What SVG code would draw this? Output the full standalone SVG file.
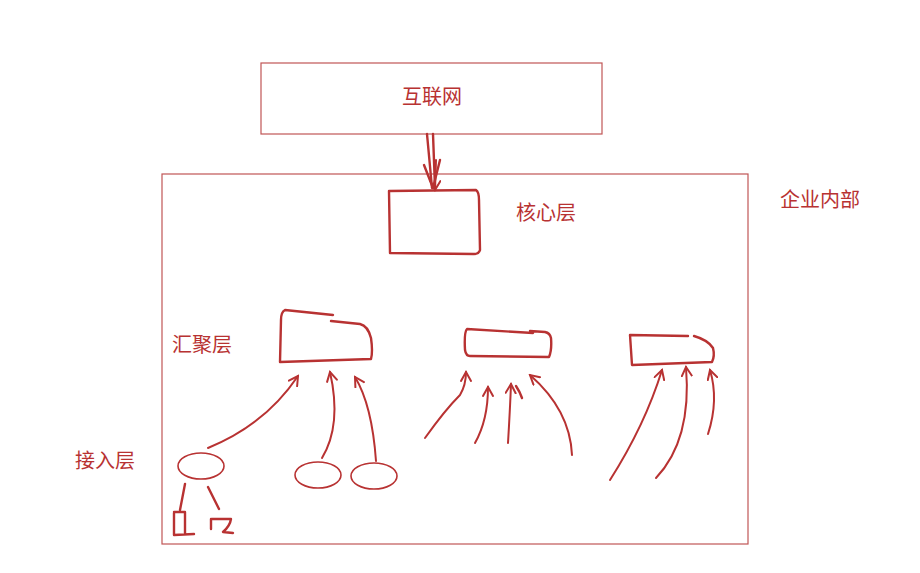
<svg xmlns="http://www.w3.org/2000/svg" width="920" height="573" viewBox="0 0 920 573">
<defs>
<marker id="ah" viewBox="0 0 12 12" refX="10" refY="6" markerWidth="12" markerHeight="12" markerUnits="userSpaceOnUse" orient="auto">
<path d="M1,1 L10,6 L1,11" fill="none" stroke="#b83232" stroke-width="2" stroke-linecap="round"/>
</marker>
</defs>
<style>
.t{font-family:"Noto Sans CJK SC","Liberation Sans",sans-serif;font-size:20px;fill:#b83232}
.thin{fill:none;stroke:#c05555;stroke-width:1.2}
.s{fill:none;stroke:#b83232;stroke-width:2.4;stroke-linecap:round;stroke-linejoin:round}
.a{fill:none;stroke:#b83232;stroke-width:2;stroke-linecap:round;marker-end:url(#ah)}
</style>
<rect x="0" y="0" width="920" height="573" fill="#fff"/>
<g id="internet"><rect class="thin" x="261" y="63" width="341" height="71"/><text class="t" x="432" y="104" text-anchor="middle">互联网</text></g>
<g id="enterprise"><rect class="thin" x="162" y="174" width="586" height="370"/><text class="t" x="780" y="207">企业内部</text></g>
<g id="core"><path class="s" d="M389,191 L476,190 Q479,192 479,200 L480,250 Q479,254 474,254 L390,253 Z"/><text class="t" x="516" y="220">核心层</text></g>
<g id="agg-label"><text class="t" x="172" y="352">汇聚层</text></g>
<g id="access-label"><text class="t" x="75" y="468">接入层</text></g>
<g id="agg1"><path class="s" d="M333,315 L285,310 Q281,312 281,320 L280,362 L371,359 Q373,352 371,338 Q368,326 360,324 L331,321"/></g>
<g id="agg2"><path class="s" d="M533,333 L467,329 Q464,332 465,350 Q466,356 470,356 L549,357 Q552,350 551,338 Q550,333 545,332 L530,331"/></g>
<g id="agg3"><path class="s" d="M688,336 L630,335 L632,365 L712,362 Q715,356 713,348 Q708,340 694,336"/></g>
<g id="sw1"><ellipse class="s" cx="201" cy="466" rx="23" ry="13" style="stroke-width:1.6"/></g>
<g id="sw2"><ellipse class="s" cx="318" cy="475" rx="23" ry="13" style="stroke-width:1.6"/></g>
<g id="sw3"><ellipse class="s" cx="374" cy="476" rx="23" ry="13" style="stroke-width:1.6"/></g>
<g id="dev1"><path class="s" d="M174,513 L174,535 L194,534 M174,512 L185,512 L185,533"/></g>
<g id="dev2"><path class="s" d="M211,519 L211,529 M212,519 L231,519 Q230,526 223,532 L233,533"/></g>
<g id="connectors">
<path class="s" d="M427,134 L432,188 M433,134 L435,188"/>
<path class="a" d="M436,160 L435,190"/>
<path class="s" d="M424,165 L433,188 L440,160"/>
<path class="a" d="M208,448 Q265,425 298,376"/>
<path class="a" d="M322,458 Q342,425 330,372"/>
<path class="a" d="M376,461 Q372,405 355,377"/>
<path class="a" d="M425,438 Q445,410 460,395 Q466,385 466,372"/>
<path class="a" d="M475,443 Q488,420 488,387"/>
<path class="a" d="M508,443 Q510,410 511,384"/>
<path class="s" d="M516,386 Q520,392 522,398"/>
<path class="a" d="M572,455 Q570,410 530,375"/>
<path class="a" d="M610,480 Q645,425 662,370"/>
<path class="a" d="M656,478 Q692,440 686,367"/>
<path class="a" d="M708,434 Q719,400 710,370"/>
<path class="s" d="M180,510 L185,484 M219,509 L208,487"/>
</g>
</svg>
